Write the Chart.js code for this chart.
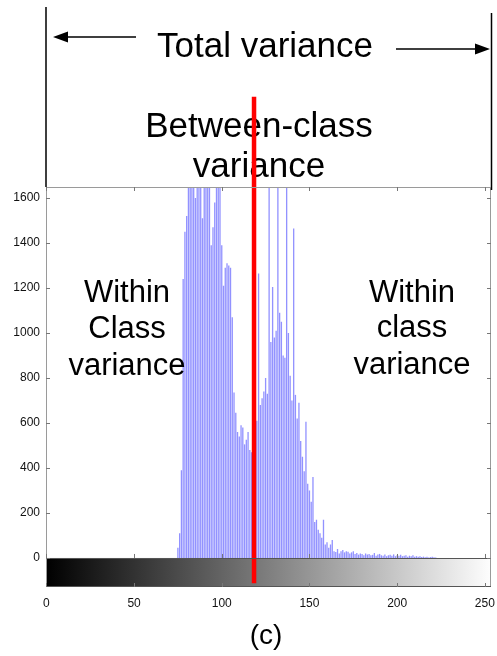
<!DOCTYPE html>
<html><head><meta charset="utf-8">
<script src="https://cdn.jsdelivr.net/npm/chart.js@4/dist/chart.umd.min.js"></script>
<style>html,body{margin:0;padding:0;background:#fff;}canvas{display:block;}</style>
</head><body>
<canvas id="c" width="497" height="656"></canvas>
<script>
// ---- data ----
const histStartLevel = 75;            // first gray level with a count
const histCounts = [
  45, 110, 390, 1240, 1450, 1520, 1720, 1800, 1760, 1700,      // 75-84
  1600, 1780, 1740, 1690, 1510, 1660, 1800, 1760, 1700, 1390,  // 85-94
  1470, 1580, 1800, 1720, 1690, 1390, 1210, 1290, 1310, 1300,  // 95-104
  1290, 1070, 735, 645, 560, 540, 590, 580, 505, 525,          // 105-114
  560, 480, 470, 560, 600, 610, 1265, 680, 710, 740,           // 115-124
  800, 730, 1720, 960, 1205, 980, 1010, 1720, 1090, 1050,      // 125-134
  900, 890, 1720, 1000, 810, 700, 1465, 725, 620, 690,         // 135-144
  520, 450, 385, 605, 330, 300, 250, 360, 160, 170,            // 145-154
  125, 110, 90, 170, 60, 70, 45, 60, 80, 30,                   // 155-164
  27, 40, 20, 30, 35, 25, 30, 28, 20, 25,                      // 165-174
  30, 18, 22, 15, 20, 18, 12, 20, 15, 18,                      // 175-184
  12, 14, 22, 10, 15, 18, 12, 10, 15, 8,                       // 185-194
  12, 14, 10, 16, 8, 12, 10, 14, 8, 10,                        // 195-204
  12, 6, 10, 8, 12, 6, 8, 5, 8, 4,                             // 205-214
  6, 3, 5, 2, 4, 6, 3, 2                                       // 215-222
];
const thresholdLevel = 118.4;
const thresholdSpan = [-112, 2050];
const xTickValues = [0, 50, 100, 150, 200, 250];
const yTickValues = [0, 200, 400, 600, 800, 1000, 1200, 1400, 1600];
const xRange = [-0.2, 253.5];
const yRange = [-129, 1649];
const grayRange = [0, 255];

const histPoints = histCounts.map((c, i) => ({ x: histStartLevel + i, y: c }));
const thresholdPoints = thresholdSpan.map(v => ({ x: thresholdLevel, y: v }));

const FONT = '"Liberation Sans", Arial, Helvetica, sans-serif';

const decor = {
  id: 'decor',
  beforeDatasetsDraw(chart) {
    const { ctx, chartArea: ca, scales: { x, y } } = chart;
    const y0 = y.getPixelForValue(0);
    const gx0 = x.getPixelForValue(grayRange[0]);
    const gx1 = x.getPixelForValue(grayRange[1]);
    ctx.save();
    const g = ctx.createLinearGradient(gx0, 0, gx1, 0);
    g.addColorStop(0, '#000000');
    g.addColorStop(1, '#ffffff');
    ctx.fillStyle = g;
    ctx.fillRect(ca.left, y0, ca.right - ca.left, ca.bottom - y0);
    ctx.restore();
  },
  afterDatasetDraw(chart, args) {
    if (args.index !== 0) return;
    const { ctx } = chart;
    ctx.save();
    ctx.fillStyle = '#000';
    ctx.textAlign = 'center';
    ctx.textBaseline = 'alphabetic';
    ctx.font = '31px ' + FONT;
    [['Within', 302], ['Class', 338], ['variance', 375]].forEach(([t, b]) => ctx.fillText(t, 127, b));
    [['Within', 302], ['class', 337], ['variance', 374]].forEach(([t, b]) => ctx.fillText(t, 412, b));
    ctx.font = '35px ' + FONT;
    ctx.fillText('Between-class', 259, 137);
    ctx.fillText('variance', 259, 177);
    ctx.restore();
  },
  afterDraw(chart) {
    const { ctx, chartArea: ca, scales: { x, y } } = chart;
    const y0 = y.getPixelForValue(0);
    ctx.save();
    // frame
    ctx.lineWidth = 1;
    ctx.strokeStyle = '#9a9a9a';
    ctx.beginPath();
    ctx.moveTo(ca.left + 0.5, ca.bottom); ctx.lineTo(ca.left + 0.5, ca.top + 0.5);
    ctx.lineTo(ca.right - 0.5, ca.top + 0.5); ctx.lineTo(ca.right - 0.5, ca.bottom);
    ctx.stroke();
    ctx.strokeStyle = '#555';
    ctx.beginPath();
    ctx.moveTo(ca.left, Math.round(y0) + 0.5); ctx.lineTo(ca.right, Math.round(y0) + 0.5);
    ctx.moveTo(ca.left, ca.bottom - 0.5); ctx.lineTo(ca.right, ca.bottom - 0.5);
    ctx.stroke();
    // inward tick marks
    ctx.strokeStyle = '#777';
    ctx.beginPath();
    yTickValues.forEach(v => {
      const p = Math.round(y.getPixelForValue(v)) + 0.5;
      ctx.moveTo(ca.left, p); ctx.lineTo(ca.left + 4, p);
      ctx.moveTo(ca.right, p); ctx.lineTo(ca.right - 4, p);
    });
    xTickValues.forEach(v => {
      const p = Math.round(x.getPixelForValue(v)) + 0.5;
      ctx.moveTo(p, ca.top); ctx.lineTo(p, ca.top + 4);
      ctx.moveTo(p, y0); ctx.lineTo(p, y0 - 4);
      ctx.moveTo(p, ca.bottom); ctx.lineTo(p, ca.bottom - 4);
    });
    ctx.stroke();
    // total variance bracket
    ctx.strokeStyle = '#000';
    ctx.fillStyle = '#000';
    ctx.lineWidth = 1.5;
    ctx.beginPath();
    ctx.moveTo(ca.left, 7); ctx.lineTo(ca.left, ca.top);
    ctx.moveTo(ca.right + 0.5, 13); ctx.lineTo(ca.right + 0.5, ca.top + 3);
    ctx.moveTo(66, 37); ctx.lineTo(136, 37);
    ctx.moveTo(396, 49); ctx.lineTo(478, 49);
    ctx.stroke();
    ctx.beginPath();
    ctx.moveTo(53, 37); ctx.lineTo(68, 31.5); ctx.lineTo(68, 42.5); ctx.closePath();
    ctx.moveTo(490, 49); ctx.lineTo(475, 43.5); ctx.lineTo(475, 54.5); ctx.closePath();
    ctx.fill();
    ctx.textAlign = 'center';
    ctx.font = '35px ' + FONT;
    ctx.fillText('Total variance', 265, 57);
    ctx.font = '28px ' + FONT;
    ctx.fillText('(c)', 266, 644);
    ctx.restore();
  }
};

new Chart(document.getElementById('c'), {
  type: 'bar',
  data: {
    datasets: [
      {
        type: 'bar',
        data: histPoints,
        backgroundColor: 'rgba(95,95,255,0.68)',
        borderWidth: 0,
        barPercentage: 0.75,
        categoryPercentage: 1,
        order: 2
      },
      {
        type: 'line',
        data: thresholdPoints,
        borderColor: '#ff0000',
        borderWidth: 4.5,
        pointRadius: 0,
        clip: false,
        order: 1
      }
    ]
  },
  options: {
    responsive: false,
    devicePixelRatio: 1,
    animation: false,
    layout: { padding: { top: 187, left: 0, right: 6, bottom: 39 } },
    plugins: { legend: { display: false }, tooltip: { enabled: false } },
    scales: {
      x: {
        type: 'linear',
        offset: false,
        min: xRange[0], max: xRange[1],
        grid: { display: false, drawTicks: false },
        border: { display: false },
        afterBuildTicks(s) { s.ticks = xTickValues.map(v => ({ value: v })); },
        afterFit(s) { s.height = 30; s.paddingLeft = 0; s.paddingRight = 0; },
        ticks: { padding: 9, maxRotation: 0, color: '#111', font: { family: FONT, size: 12 }, callback: v => String(v) }
      },
      y: {
        min: yRange[0], max: yRange[1],
        grid: { display: false, drawTicks: false },
        border: { display: false },
        afterBuildTicks(s) { s.ticks = yTickValues.map(v => ({ value: v })); },
        afterFit(s) { s.width = 46; s.paddingTop = 0; s.paddingBottom = 0; },
        ticks: { padding: 6, color: '#111', font: { family: FONT, size: 12 }, callback: v => String(v) }
      }
    }
  },
  plugins: [decor]
});
</script>
</body></html>
